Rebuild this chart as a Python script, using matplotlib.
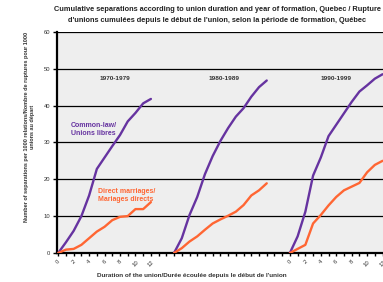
import numpy as np
import matplotlib
matplotlib.use("Agg")
import matplotlib.pyplot as plt

plt.rcParams["font.family"] = ["Liberation Sans", "DejaVu Sans"]

# duree de l'union (annees) et periodes de formation
durations = list(range(13))
periods = ["1970-1979", "1980-1989", "1990-1999"]

# unions libres (par 1000)
common_law_70 = [0, 2.9, 6.0, 10.0, 15.6, 22.8, 25.9, 29.0, 32.0, 35.7, 38.0, 40.6, 41.8]
common_law_80 = [0, 4.0, 10.3, 15.2, 21.4, 26.3, 30.4, 33.9, 37.0, 39.3, 42.4, 45.0, 46.8]
common_law_90 = [0, 4.5, 11.2, 21.0, 25.9, 31.7, 34.8, 37.9, 41.0, 43.8, 45.5, 47.3, 48.5]

# mariages directs (par 1000)
direct_70 = [0, 0.9, 1.1, 2.2, 4.0, 5.8, 7.1, 8.9, 9.8, 10.0, 11.9, 11.9, 13.8]
direct_80 = [0, 1.3, 3.1, 4.5, 6.3, 8.0, 9.1, 10.1, 11.2, 13.0, 15.6, 17.0, 18.9]
direct_90 = [0, 1.1, 2.2, 8.0, 10.3, 12.9, 15.2, 17.0, 18.0, 19.0, 21.9, 23.9, 25.0]

common_law = [common_law_70, common_law_80, common_law_90]
direct = [direct_70, direct_80, direct_90]

PURPLE = "#6633a0"
ORANGE = "#ff6633"
gap = 15  # chaque periode occupe 15 positions sur l'axe

fig = plt.figure(figsize=(3.83, 2.82), dpi=100)
ax = fig.add_axes([0.149, 0.103, 0.86, 0.784])
ax.set_facecolor("#eeeeee")

for k in range(3):
    xs = np.array(durations) + k * gap
    ax.plot(xs, common_law[k], color=PURPLE, lw=1.7, solid_capstyle="round", zorder=3)
    ax.plot(xs, direct[k], color=ORANGE, lw=1.7, solid_capstyle="round", zorder=3)

ax.set_ylim(0, 60)
ax.set_xlim(-0.15, 42.5)
ax.set_yticks(range(0, 61, 10))
ax.yaxis.grid(True, color="black", lw=0.9)
ax.set_axisbelow(True)
ax.tick_params(axis="y", labelsize=4.2, length=3, width=1, pad=2, color="black", labelcolor="#333333")

# ticks a chaque annee, etiquettes seulement pour la 1re et 3e periode
ax.set_xticks(np.arange(0, 43, 1), minor=True)
lab_pos = [d for d in durations if d % 2 == 0]
ax.set_xticks(lab_pos + [d + 2 * gap for d in lab_pos])
ax.set_xticklabels([str(d) for d in lab_pos] * 2, rotation=45, fontsize=4.2, color="#333333")
ax.tick_params(axis="x", which="both", length=2.5, width=1, pad=2, color="black")

for side in ["top", "right"]:
    ax.spines[side].set_visible(False)
ax.spines["left"].set_linewidth(1.6)
ax.spines["bottom"].set_linewidth(1.6)

# periodes
for k, p in enumerate(periods):
    ax.text([7.3, 6.5, 6.0][k] + k * gap, 47.3, p, fontsize=4.6, fontweight="bold",
            color="#333333", ha="center", va="center")

ax.text(1.6, 33.5, "Common-law/\nUnions libres", fontsize=5, fontweight="bold",
        color=PURPLE, ha="left", va="center", linespacing=1.2)
ax.text(5.2, 15.7, "Direct marriages/\nMariages directs", fontsize=5, fontweight="bold",
        color=ORANGE, ha="left", va="center", linespacing=1.2)

fig.text(0.567, 0.968, "Cumulative separations according to union duration and year of formation, Quebec / Rupture",
         fontsize=5.3, fontweight="bold", ha="center", va="center", color="#222222")
fig.text(0.567, 0.928, "d'unions cumulées depuis le début de l'union, selon la période de formation, Québec",
         fontsize=5.3, fontweight="bold", ha="center", va="center", color="#222222")

fig.text(0.078, 0.55, "Number of separations per 1000 relations/Nombre de ruptures pour 1000\nunions au départ",
         fontsize=4.0, fontweight="bold", rotation=90, ha="center", va="center", color="#333333",
         linespacing=1.2)
fig.text(0.5, 0.024, "Duration of the union/Durée écoulée depuis le début de l'union", fontsize=4.6,
         fontweight="bold", color="#333333", ha="center", va="center")

fig.savefig("out.png", dpi=100)
